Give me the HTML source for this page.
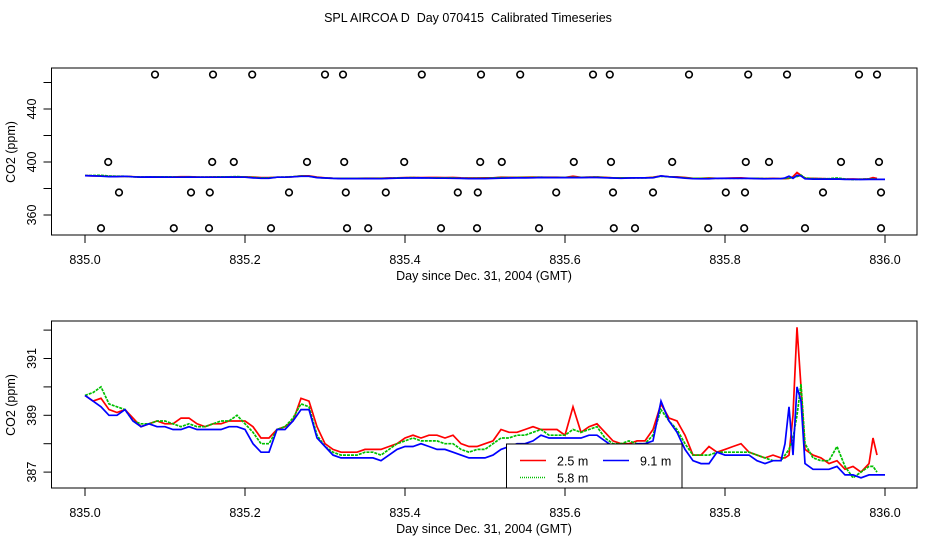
<!DOCTYPE html>
<html><head><meta charset="utf-8">
<style>
html,body{margin:0;padding:0;background:#fff;}
svg{display:block;font-family:"Liberation Sans",sans-serif;}
</style></head>
<body>
<svg id="chart" width="936" height="540" viewBox="0 0 936 540">
<text x="468" y="22" text-anchor="middle" font-size="12.5" style="white-space:pre">SPL AIRCOA D  Day 070415  Calibrated Timeseries</text>
</svg>
<script>
const times = [835.00,835.01,835.02,835.03,835.04,835.05,835.06,835.07,835.08,835.09,835.10,835.11,835.12,835.13,835.14,835.15,835.16,835.17,835.18,835.19,835.20,835.21,835.22,835.23,835.24,835.25,835.26,835.27,835.28,835.29,835.30,835.31,835.32,835.33,835.34,835.35,835.36,835.37,835.38,835.39,835.40,835.41,835.42,835.43,835.44,835.45,835.46,835.47,835.48,835.49,835.50,835.51,835.52,835.53,835.54,835.55,835.56,835.57,835.58,835.59,835.60,835.61,835.62,835.63,835.64,835.65,835.66,835.67,835.68,835.69,835.70,835.71,835.72,835.73,835.74,835.75,835.76,835.77,835.78,835.79,835.80,835.81,835.82,835.83,835.84,835.85,835.86,835.87,835.875,835.88,835.885,835.89,835.895,835.90,835.91,835.92,835.93,835.94,835.95,835.96,835.97,835.98,835.985,835.99,836.00];
const red = [389.7,389.5,389.6,389.2,389.1,389.2,388.9,388.6,388.7,388.8,388.7,388.7,388.9,388.9,388.7,388.6,388.7,388.7,388.8,388.8,388.8,388.6,388.2,388.2,388.5,388.6,388.8,389.6,389.5,388.6,388.0,387.8,387.7,387.7,387.7,387.8,387.8,387.8,387.9,388.0,388.2,388.3,388.2,388.3,388.3,388.2,388.3,388.0,387.9,387.9,388.0,388.1,388.5,388.4,388.4,388.5,388.6,388.5,388.5,388.5,388.3,389.3,388.4,388.6,388.7,388.4,388.1,388.0,388.0,388.1,388.1,388.5,389.4,388.9,388.8,388.3,387.6,387.6,387.9,387.7,387.8,387.9,388.0,387.7,387.6,387.5,387.6,387.5,387.5,387.6,389.0,392.1,390.0,387.8,387.6,387.5,387.3,387.4,387.1,387.2,387.0,387.3,388.2,387.6,null];
const green = [389.7,389.8,390.0,389.4,389.3,389.2,388.8,388.7,388.7,388.8,388.8,388.7,388.6,388.7,388.6,388.6,388.7,388.8,388.8,389.0,388.7,388.4,388.0,388.0,388.5,388.6,388.9,389.4,389.3,388.3,387.9,387.7,387.6,387.6,387.6,387.7,387.7,387.6,387.8,388.0,388.1,388.2,388.1,388.1,388.1,388.0,388.0,387.8,387.7,387.8,387.8,388.0,388.2,388.2,388.3,388.3,388.4,388.5,388.3,388.3,388.3,388.5,388.4,388.5,388.6,388.2,388.0,388.0,388.1,388.0,388.0,388.3,389.2,388.8,388.5,388.0,387.6,387.6,387.6,387.7,387.7,387.7,387.7,387.7,387.6,387.5,387.4,387.4,387.6,387.8,388.2,389.0,390.1,388.0,387.5,387.4,387.4,387.9,387.2,386.8,387.0,387.2,387.2,387.0,null];
const blue = [389.7,389.5,389.3,389.0,389.0,389.2,388.8,388.6,388.7,388.6,388.6,388.5,388.5,388.6,388.5,388.5,388.5,388.5,388.6,388.6,388.5,388.0,387.7,387.7,388.5,388.5,388.8,389.2,389.2,388.2,387.9,387.6,387.5,387.5,387.5,387.5,387.5,387.4,387.6,387.8,387.9,387.9,388.0,387.9,387.8,387.8,387.7,387.6,387.5,387.5,387.5,387.6,387.8,387.9,388.0,388.0,388.1,388.3,388.2,388.2,388.2,388.2,388.2,388.3,388.3,388.1,387.9,387.7,387.9,388.0,388.0,388.1,389.5,388.8,388.4,387.8,387.4,387.3,387.3,387.7,387.6,387.6,387.6,387.6,387.4,387.3,387.4,387.4,388.0,389.3,387.6,390.0,389.5,387.3,387.1,387.1,387.1,387.2,386.9,386.9,386.8,386.9,386.9,386.9,386.9];
const flagTimes = [835.0875,835.16,835.209,835.3,835.3225,835.421,835.495,835.544,835.635,835.656,835.755,835.829,835.8775,835.9675,835.99,
 835.029,835.159,835.186,835.2775,835.324,835.399,835.494,835.521,835.611,835.6575,835.734,835.826,835.855,835.945,835.9925,
 835.0425,835.1325,835.156,835.255,835.326,835.376,835.466,835.491,835.589,835.66,835.71,835.801,835.825,835.9225,835.995,
 835.02,835.111,835.155,835.2325,835.3275,835.354,835.445,835.49,835.5675,835.661,835.6875,835.779,835.824,835.9,835.995];
const flagValues = [466,466,466,466,466,466,466,466,466,466,466,466,466,466,466,
 400,400,400,400,400,400,400,400,400,400,400,400,400,400,400,
 377,377,377,377,377,377,377,377,377,377,377,377,377,377,377,
 350,350,350,350,350,350,350,350,350,350,350,350,350,350,350];
const xTicks = [835.0,835.2,835.4,835.6,835.8,836.0];
const topYTicks = [360,380,400,420,440,460];
const topYLabels = [360,400,440];
const botYTicks = [387,388,389,390,391,392];
const botYLabels = [387,389,391];

const NS='http://www.w3.org/2000/svg';
const svg=document.getElementById('chart');
function el(tag,attrs,parent){const e=document.createElementNS(NS,tag);for(const k in attrs)e.setAttribute(k,attrs[k]);(parent||svg).appendChild(e);return e;}
const xs=d=>85+800*(d-835);
const yTop=v=>215-(v-360)*1.325;
const yBot=v=>415.3-(v-389)*28.4;

function panel(name,top,bottom,yScale,yTicks,yLabels,yMid){
  const g=el('g',{});
  
  
  const box=el('rect',{x:51.5,y:top,width:865.5,height:bottom-top,fill:'none',stroke:'#000','stroke-width':1},g);
  
  
  xTicks.forEach(t=>{
    const x=xs(t);
    const l=el('line',{x1:x,x2:x,y1:bottom,y2:bottom+8,stroke:'#000'},g);
    
    
    const tx=el('text',{x:x,y:bottom+29,'text-anchor':'middle','font-size':12.5},g);
    tx.textContent=t.toFixed(1);
    
    
  });
  yTicks.forEach(v=>{
    const y=yScale(v);
    const l=el('line',{x1:43.5,x2:51.5,y1:y,y2:y,stroke:'#000'},g);
    
    
  });
  yLabels.forEach(v=>{
    const y=yScale(v);
    const tx=el('text',{x:0,y:0,'text-anchor':'middle','font-size':12.5,transform:`translate(36,${y}) rotate(-90)`},g);
    tx.textContent=String(v);
    
    
  });
  const xt=el('text',{x:484,y:bottom+45,'text-anchor':'middle','font-size':12.5},g);
  xt.textContent='Day since Dec. 31, 2004 (GMT)';
  
  
  const yt=el('text',{x:0,y:0,'text-anchor':'middle','font-size':12.5,transform:`translate(15,${yMid}) rotate(-90)`},g);
  yt.textContent='CO2 (ppm)';
  
  
  return g;
}
function series(g,vals,yScale,color,dash,name){
  let d='';let pen=false;
  vals.forEach((v,i)=>{
    if(v===null){pen=false;return;}
    d+=(pen?'L':'M')+xs(times[i]).toFixed(1)+','+yScale(v).toFixed(1);pen=true;
  });
  const p=el('path',{d:d,fill:'none',stroke:color,'stroke-width':1.7},g);
  if(dash)p.setAttribute('stroke-dasharray',dash);
  
  
}

const gTop=panel('top-panel',68,235,yTop,topYTicks,topYLabels,152);
flagTimes.forEach((t,i)=>{
  const c=el('circle',{cx:xs(t),cy:yTop(flagValues[i]),r:3.3,fill:'none',stroke:'#000','stroke-width':1.6},gTop);
  
  
});
series(gTop,red,yTop,'#ff0000',null,'series-2-5m');
series(gTop,green,yTop,'#00c000','3,1','series-5-8m');
series(gTop,blue,yTop,'#0000ff',null,'series-9-1m');

const gBot=panel('bottom-panel',321,488,yBot,botYTicks,botYLabels,405);
series(gBot,red,yBot,'#ff0000',null,'series-2-5m');
series(gBot,green,yBot,'#00c000','3,1','series-5-8m');
series(gBot,blue,yBot,'#0000ff',null,'series-9-1m');

const lg=el('g',{},gBot);


el('rect',{x:506.5,y:444,width:175.5,height:44,fill:'#fff',stroke:'#000'},lg);
[[520,460.5,'#ff0000',null,'2.5 m','legend-entry-2-5m'],[603,460.5,'#0000ff',null,'9.1 m','legend-entry-9-1m'],[520,477.5,'#00c000','1,1','5.8 m','legend-entry-5-8m']].forEach(e=>{
  const gg=el('g',{},lg);
  
  
  const l=el('line',{x1:e[0],x2:e[0]+26,y1:e[1],y2:e[1],stroke:e[2],'stroke-width':1.4},gg);
  if(e[3])l.setAttribute('stroke-dasharray',e[3]);
  const t=el('text',{x:e[0]+37,y:e[1]+5,'font-size':12.5},gg);
  t.textContent=e[4];
});
</script>
</body></html>
